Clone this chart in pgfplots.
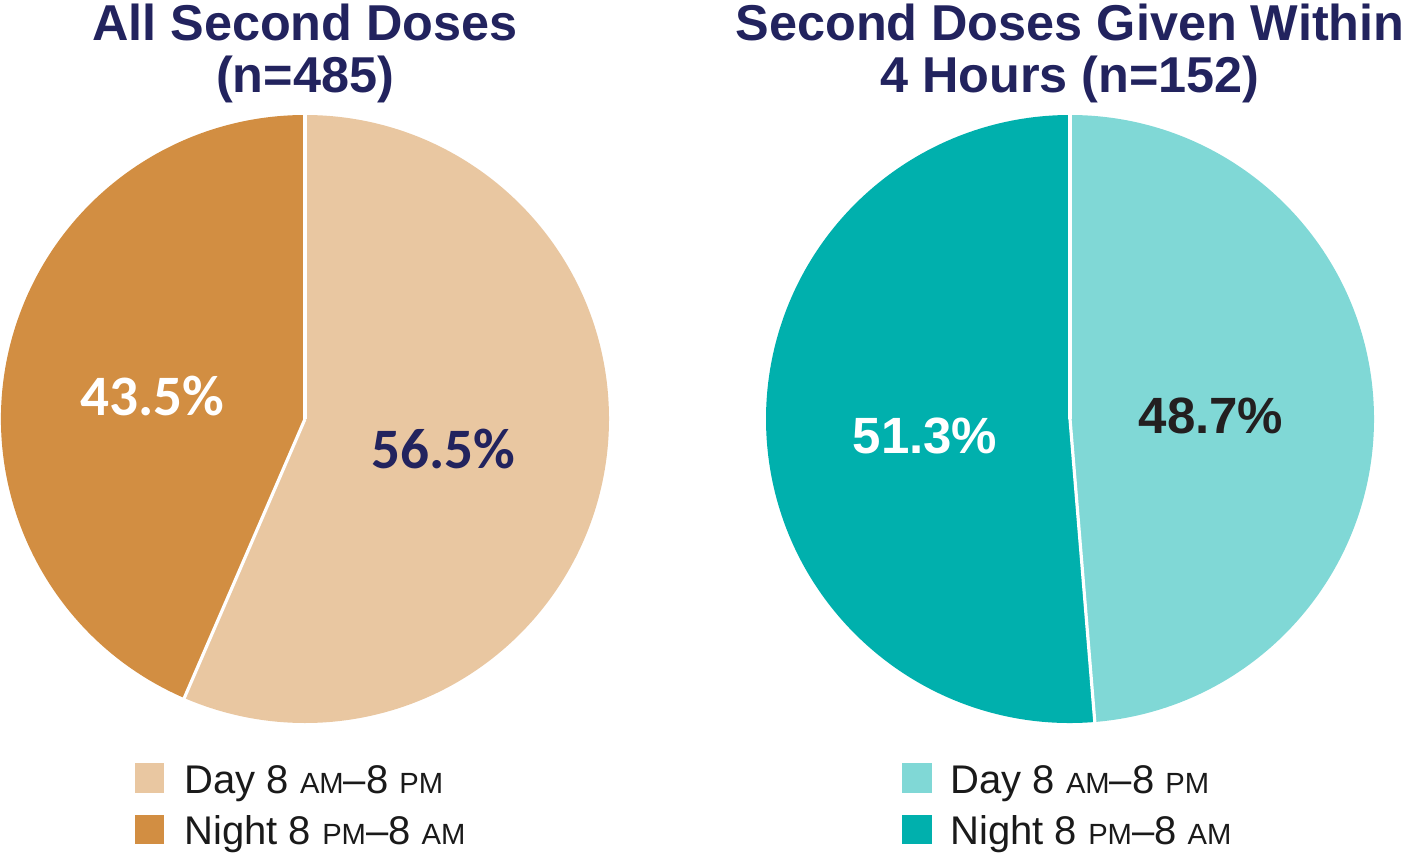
\documentclass[border=0pt]{standalone}
\usepackage{fontspec}
\setmainfont{Liberation Sans}
\newfontfamily\calib{Carlito}
\usepackage{pgfplots}
\pgfplotsset{compat=1.18}
\usepackage{pgfplotstable}
\definecolor{navy}{HTML}{22235E}
\definecolor{dayA}{HTML}{E9C7A1}
\definecolor{nightA}{HTML}{D28E42}
\definecolor{dayB}{HTML}{80D8D6}
\definecolor{nightB}{HTML}{00B0AD}
\definecolor{darktxt}{HTML}{231F20}
\definecolor{legtxt}{HTML}{1A1A1A}
\pgfplotstableread{
chart day night
1 56.5 43.5
2 48.7 51.3
}\piedata
\newcommand\titlefont{\fontsize{25.2bp}{26bp}\bfseries\selectfont}
\newcommand\legfont{\fontsize{20bp}{24bp}\selectfont}
\newcommand\sm[1]{{\fontsize{14.6bp}{16bp}\selectfont #1}}
\newcommand\pctA{\fontsize{28.6bp}{30bp}\calib\bfseries\selectfont}
\newcommand\pctB{\fontsize{25.5bp}{28bp}\bfseries\selectfont}
\begin{document}%
\begin{tikzpicture}
\pgfplotstablegetelem{0}{day}\of\piedata \global\let\dayA\pgfplotsretval
\pgfplotstablegetelem{0}{night}\of\piedata \global\let\nightA\pgfplotsretval
\pgfplotstablegetelem{1}{day}\of\piedata \global\let\dayB\pgfplotsretval
\pgfplotstablegetelem{1}{night}\of\piedata \global\let\nightB\pgfplotsretval
\begin{axis}[x=0.5bp, y=0.5bp, xmin=0, xmax=1405, ymin=0, ymax=857,
  y dir=reverse, hide axis, clip=false]
\coordinate (BL) at (axis cs:0,857);
\coordinate (TR) at (axis cs:1405,0);
% left pie
\fill[dayA] (axis cs:305,419) -- ++(90:152bp) arc[start angle=90, end angle={90-3.6*\dayA}, radius=152bp] -- cycle;
\fill[nightA] (axis cs:305,419) -- ++({90-3.6*\dayA}:152bp) arc[start angle={90-3.6*\dayA}, end angle=-270, radius=152bp] -- cycle;
\draw[white, line width=1.6bp] (axis cs:305,419) -- ++(90:153bp);
\draw[white, line width=1.6bp] (axis cs:305,419) -- ++({90-3.6*\dayA}:153bp);
% right pie
\fill[dayB] (axis cs:1070,419) -- ++(90:152bp) arc[start angle=90, end angle={90-3.6*\dayB}, radius=152bp] -- cycle;
\fill[nightB] (axis cs:1070,419) -- ++({90-3.6*\dayB}:152bp) arc[start angle={90-3.6*\dayB}, end angle=-270, radius=152bp] -- cycle;
\draw[white, line width=1.6bp] (axis cs:1070,419) -- ++(90:153bp);
\draw[white, line width=1.6bp] (axis cs:1070,419) -- ++({90-3.6*\dayB}:153bp);
% percentage labels
\node[anchor=base, inner sep=0, font=\pctA, text=white] at (axis cs:152,415) {\nightA\%};
\node[anchor=base, inner sep=0, font=\pctA, text=navy] at (axis cs:443,468) {\dayA\%};
\node[anchor=base, inner sep=0, font=\pctB, text=white] at (axis cs:925,453) {\nightB\%};
\node[anchor=base, inner sep=0, font=\pctB, text=darktxt] at (axis cs:1211,433) {\dayB\%};
% titles
\node[anchor=base, inner sep=0, font=\titlefont, text=navy] at (axis cs:305,40) {All Second Doses};
\node[anchor=base, inner sep=0, font=\titlefont, text=navy] at (axis cs:305,92) {(n=485)};
\node[anchor=base, inner sep=0, font=\titlefont, text=navy] at (axis cs:1070,40) {Second Doses Given Within};
\node[anchor=base, inner sep=0, font=\titlefont, text=navy] at (axis cs:1070,92) {4 Hours (n=152)};
% legends
\fill[dayA] (axis cs:135,763) rectangle (axis cs:164,793);
\fill[nightA] (axis cs:135,815) rectangle (axis cs:164,844);
\node[anchor=base west, inner sep=0, font=\legfont, text=legtxt] at (axis cs:184,793) {Day 8 \sm{AM}–8 \sm{PM}};
\node[anchor=base west, inner sep=0, font=\legfont, text=legtxt] at (axis cs:184,844) {Night 8 \sm{PM}–8 \sm{AM}};
\fill[dayB] (axis cs:902,763) rectangle (axis cs:932,793);
\fill[nightB] (axis cs:902,815) rectangle (axis cs:932,844);
\node[anchor=base west, inner sep=0, font=\legfont, text=legtxt] at (axis cs:950,793) {Day 8 \sm{AM}–8 \sm{PM}};
\node[anchor=base west, inner sep=0, font=\legfont, text=legtxt] at (axis cs:950,844) {Night 8 \sm{PM}–8 \sm{AM}};
\end{axis}
\pgfresetboundingbox
\useasboundingbox (BL) rectangle (TR);
\end{tikzpicture}%
\end{document}
